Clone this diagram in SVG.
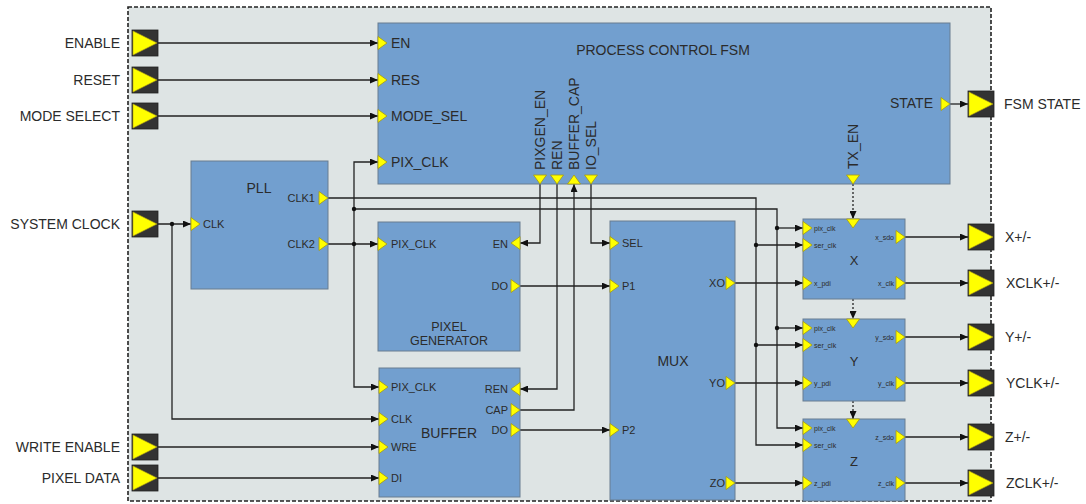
<svg xmlns="http://www.w3.org/2000/svg" xmlns:xlink="http://www.w3.org/1999/xlink" width="1086" height="504" viewBox="0 0 1086 504">
<style>
text{font-family:"Liberation Sans",Arial,sans-serif;fill:#2b2b2b}
.lbl{font-size:14px}
.pl{font-size:11px}
.sm{font-size:7px}
.blk{fill:#729fcf;stroke:#687c90;stroke-width:1}
.pt{fill:#ffff00;stroke:#a49a10;stroke-width:0.8}
.w{fill:none;stroke:#222;stroke-width:1.3}
.a{marker-end:url(#ah)}
.dot{fill:#111}
.dt{stroke-dasharray:2,2}
.mid{text-anchor:middle}
.end{text-anchor:end}
</style>
<defs>
<marker id="ah" markerUnits="userSpaceOnUse" markerWidth="8" markerHeight="7" refX="8" refY="3.5" orient="auto"><path d="M0,0 L8,3.5 L0,7 z" fill="#111"/></marker>
<polygon id="tri" class="pt" points="0,-6.5 9,0 0,6.5"/>
<g id="port"><rect x="0" y="0" width="26" height="26" fill="#333" stroke="#222" stroke-width="0.8"/><polygon points="1,1 25,13 1,25" fill="#ffff00" stroke="#b0a010" stroke-width="0.6"/></g>
</defs>
<rect width="1086" height="504" fill="#fff"/>
<rect id="frame" x="128" y="7" width="863" height="494" fill="#dee4e4" stroke="#222" stroke-width="1.6" stroke-dasharray="4,2"/>

<g id="connectors">
<path class="w a" d="M158,43 H378"/>
<path class="w a" d="M158,80 H378"/>
<path class="w a" d="M158,116 H378"/>
<path class="w a" d="M158,224 H191"/>
<path class="w a" d="M172,224 V419 H379"/>
<path class="w a" d="M328,244 H378"/>
<path class="w a" d="M354,244 V162 H378"/>
<path class="w a" d="M354,244 V387 H379"/>
<path class="w a" d="M354,209 H777 V428 H803"/>
<path class="w a" d="M777,228 H803"/>
<path class="w a" d="M777,328 H803"/>
<path class="w a" d="M328,198 H756 V445 H803"/>
<path class="w a" d="M756,245 H803"/>
<path class="w a" d="M756,345 H803"/>
<path class="w a" d="M540,184 V243 H520"/>
<path class="w a" d="M557,184 V389 H520"/>
<path class="w a" d="M520,410 H574 V184"/>
<path class="w a" d="M591,184 V243 H610"/>
<path class="w a" d="M520,286 H610"/>
<path class="w a" d="M520,430 H610"/>
<path class="w a" d="M735,283 H803"/>
<path class="w a" d="M735,383 H803"/>
<path class="w a" d="M735,483 H803"/>
<path class="w a" d="M905,237 H968"/>
<path class="w a" d="M905,283 H968"/>
<path class="w a" d="M905,337 H968"/>
<path class="w a" d="M905,383 H968"/>
<path class="w a" d="M905,437 H968"/>
<path class="w a" d="M905,483 H968"/>
<path class="w a" d="M950,104 H968"/>
<path class="w a" d="M158,447 H379"/>
<path class="w a" d="M158,478 H379"/>
<path class="w a dt" d="M853,184 V219"/>
<path class="w a dt" d="M853,299 V319"/>
<path class="w a dt" d="M853,401 V419"/>
<circle class="dot" cx="172" cy="224" r="2.2"/>
<circle class="dot" cx="354" cy="244" r="2.2"/>
<circle class="dot" cx="354" cy="209" r="2.2"/>
<circle class="dot" cx="777" cy="228" r="2.2"/>
<circle class="dot" cx="777" cy="328" r="2.2"/>
<circle class="dot" cx="756" cy="245" r="2.2"/>
<circle class="dot" cx="756" cy="345" r="2.2"/>
</g>

<g id="in-enable"><use xlink:href="#port" x="132" y="30"/><text class="lbl end" x="120" y="48">ENABLE</text></g>
<g id="in-reset"><use xlink:href="#port" x="132" y="67"/><text class="lbl end" x="120" y="85">RESET</text></g>
<g id="in-mode"><use xlink:href="#port" x="132" y="103"/><text class="lbl end" x="120" y="121">MODE SELECT</text></g>
<g id="in-sysclk"><use xlink:href="#port" x="132" y="211"/><text class="lbl end" x="120" y="229">SYSTEM CLOCK</text></g>
<g id="in-wre"><use xlink:href="#port" x="132" y="434"/><text class="lbl end" x="120" y="452">WRITE ENABLE</text></g>
<g id="in-data"><use xlink:href="#port" x="132" y="465"/><text class="lbl end" x="120" y="483">PIXEL DATA</text></g>

<g id="out-state"><use xlink:href="#port" x="968" y="91"/><text class="lbl" x="1004" y="109">FSM STATE</text></g>
<g id="out-x"><use xlink:href="#port" x="968" y="224"/><text class="lbl" x="1005" y="242">X+/-</text></g>
<g id="out-xclk"><use xlink:href="#port" x="968" y="270"/><text class="lbl" x="1006" y="288">XCLK+/-</text></g>
<g id="out-y"><use xlink:href="#port" x="968" y="324"/><text class="lbl" x="1005" y="342">Y+/-</text></g>
<g id="out-yclk"><use xlink:href="#port" x="968" y="370"/><text class="lbl" x="1006" y="388">YCLK+/-</text></g>
<g id="out-z"><use xlink:href="#port" x="968" y="424"/><text class="lbl" x="1005" y="442">Z+/-</text></g>
<g id="out-zclk"><use xlink:href="#port" x="968" y="470"/><text class="lbl" x="1006" y="488">ZCLK+/-</text></g>

<g id="fsm">
<rect class="blk" x="378" y="23" width="572" height="161"/>
<text class="lbl mid" x="663" y="55">PROCESS CONTROL FSM</text>
<use xlink:href="#tri" transform="translate(378,43)"/>
<use xlink:href="#tri" transform="translate(378,80)"/>
<use xlink:href="#tri" transform="translate(378,116)"/>
<use xlink:href="#tri" transform="translate(378,162)"/>
<use xlink:href="#tri" transform="translate(941,104)"/>
<use xlink:href="#tri" transform="translate(540,175) rotate(90)"/>
<use xlink:href="#tri" transform="translate(557,175) rotate(90)"/>
<use xlink:href="#tri" transform="translate(574,184) rotate(-90)"/>
<use xlink:href="#tri" transform="translate(591,175) rotate(90)"/>
<use xlink:href="#tri" transform="translate(853,175) rotate(90)"/>
<text class="lbl" x="391" y="48">EN</text>
<text class="lbl" x="391" y="85">RES</text>
<text class="lbl" x="391" y="121">MODE_SEL</text>
<text class="lbl" x="391" y="167">PIX_CLK</text>
<text class="lbl end" x="933" y="108">STATE</text>
<text class="lbl" transform="translate(545,170) rotate(-90)">PIXGEN_EN</text>
<text class="lbl" transform="translate(562,170) rotate(-90)">REN</text>
<text class="lbl" transform="translate(579,170) rotate(-90)">BUFFER_CAP</text>
<text class="lbl" transform="translate(596,170) rotate(-90)">IO_SEL</text>
<text class="lbl" transform="translate(858,169) rotate(-90)">TX_EN</text>
</g>

<g id="pll">
<rect class="blk" x="191" y="161" width="137" height="128"/>
<text class="lbl mid" x="259" y="193">PLL</text>
<use xlink:href="#tri" transform="translate(191,224)"/>
<use xlink:href="#tri" transform="translate(319,198)"/>
<use xlink:href="#tri" transform="translate(319,244)"/>
<text class="pl" x="203" y="228">CLK</text>
<text class="pl end" x="315" y="202">CLK1</text>
<text class="pl end" x="315" y="248">CLK2</text>
</g>

<g id="pixgen">
<rect class="blk" x="378" y="222" width="142" height="129"/>
<use xlink:href="#tri" transform="translate(378,244)"/>
<use xlink:href="#tri" transform="translate(520,243) scale(-1,1)"/>
<use xlink:href="#tri" transform="translate(511,286)"/>
<text class="pl" x="391" y="248">PIX_CLK</text>
<text class="pl end" x="508" y="247.5">EN</text>
<text class="pl end" x="508" y="290">DO</text>
<text class="mid" style="font-size:12.5px" x="449" y="331">PIXEL</text>
<text class="mid" style="font-size:12.5px" x="449" y="345">GENERATOR</text>
</g>

<g id="buffer">
<rect class="blk" x="379" y="368" width="141" height="129"/>
<text class="lbl mid" x="449" y="438">BUFFER</text>
<use xlink:href="#tri" transform="translate(379,387)"/>
<use xlink:href="#tri" transform="translate(379,419)"/>
<use xlink:href="#tri" transform="translate(379,447)"/>
<use xlink:href="#tri" transform="translate(379,478)"/>
<use xlink:href="#tri" transform="translate(520,389) scale(-1,1)"/>
<use xlink:href="#tri" transform="translate(511,410)"/>
<use xlink:href="#tri" transform="translate(511,430)"/>
<text class="pl" x="391" y="391">PIX_CLK</text>
<text class="pl" x="391" y="423">CLK</text>
<text class="pl" x="391" y="451">WRE</text>
<text class="pl" x="391" y="482">DI</text>
<text class="pl end" x="508" y="393">REN</text>
<text class="pl end" x="508" y="414">CAP</text>
<text class="pl end" x="508" y="434">DO</text>
</g>

<g id="mux">
<rect class="blk" x="610" y="221" width="125" height="279"/>
<text class="lbl mid" x="673" y="366">MUX</text>
<use xlink:href="#tri" transform="translate(610,243)"/>
<use xlink:href="#tri" transform="translate(610,286)"/>
<use xlink:href="#tri" transform="translate(610,430)"/>
<use xlink:href="#tri" transform="translate(726,283)"/>
<use xlink:href="#tri" transform="translate(726,383)"/>
<use xlink:href="#tri" transform="translate(726,483)"/>
<text class="pl" x="622" y="247">SEL</text>
<text class="pl" x="622" y="290">P1</text>
<text class="pl" x="622" y="434">P2</text>
<text class="pl end" x="725" y="287">XO</text>
<text class="pl end" x="725" y="387">YO</text>
<text class="pl end" x="725" y="487">ZO</text>
</g>

<g id="ser-x">
<rect class="blk" x="803" y="219" width="102" height="80"/>
<text class="mid" style="font-size:13px" x="854" y="265">X</text>
<use xlink:href="#tri" transform="translate(853,219) rotate(90)"/>
<use xlink:href="#tri" transform="translate(803,228)"/>
<use xlink:href="#tri" transform="translate(803,245)"/>
<use xlink:href="#tri" transform="translate(803,283)"/>
<use xlink:href="#tri" transform="translate(896,237)"/>
<use xlink:href="#tri" transform="translate(896,283)"/>
<text class="sm" x="814" y="230.5">pix_clk</text>
<text class="sm" x="814" y="247.5">ser_clk</text>
<text class="sm" x="814" y="285.5">x_pdi</text>
<text class="sm end" x="894" y="239.5">x_sdo</text>
<text class="sm end" x="894" y="285.5">x_clk</text>
</g>

<g id="ser-y">
<rect class="blk" x="803" y="319" width="102" height="82"/>
<text class="mid" style="font-size:13px" x="854" y="366">Y</text>
<use xlink:href="#tri" transform="translate(853,319) rotate(90)"/>
<use xlink:href="#tri" transform="translate(803,328)"/>
<use xlink:href="#tri" transform="translate(803,345)"/>
<use xlink:href="#tri" transform="translate(803,383)"/>
<use xlink:href="#tri" transform="translate(896,337)"/>
<use xlink:href="#tri" transform="translate(896,383)"/>
<text class="sm" x="814" y="330.5">pix_clk</text>
<text class="sm" x="814" y="347.5">ser_clk</text>
<text class="sm" x="814" y="385.5">y_pdi</text>
<text class="sm end" x="894" y="339.5">y_sdo</text>
<text class="sm end" x="894" y="385.5">y_clk</text>
</g>

<g id="ser-z">
<rect class="blk" x="803" y="419" width="102" height="82"/>
<text class="mid" style="font-size:13px" x="854" y="466">Z</text>
<use xlink:href="#tri" transform="translate(853,419) rotate(90)"/>
<use xlink:href="#tri" transform="translate(803,428)"/>
<use xlink:href="#tri" transform="translate(803,445)"/>
<use xlink:href="#tri" transform="translate(803,483)"/>
<use xlink:href="#tri" transform="translate(896,437)"/>
<use xlink:href="#tri" transform="translate(896,483)"/>
<text class="sm" x="814" y="430.5">pix_clk</text>
<text class="sm" x="814" y="447.5">ser_clk</text>
<text class="sm" x="814" y="485.5">z_pdi</text>
<text class="sm end" x="894" y="439.5">z_sdo</text>
<text class="sm end" x="894" y="485.5">z_clk</text>
</g>
</svg>
